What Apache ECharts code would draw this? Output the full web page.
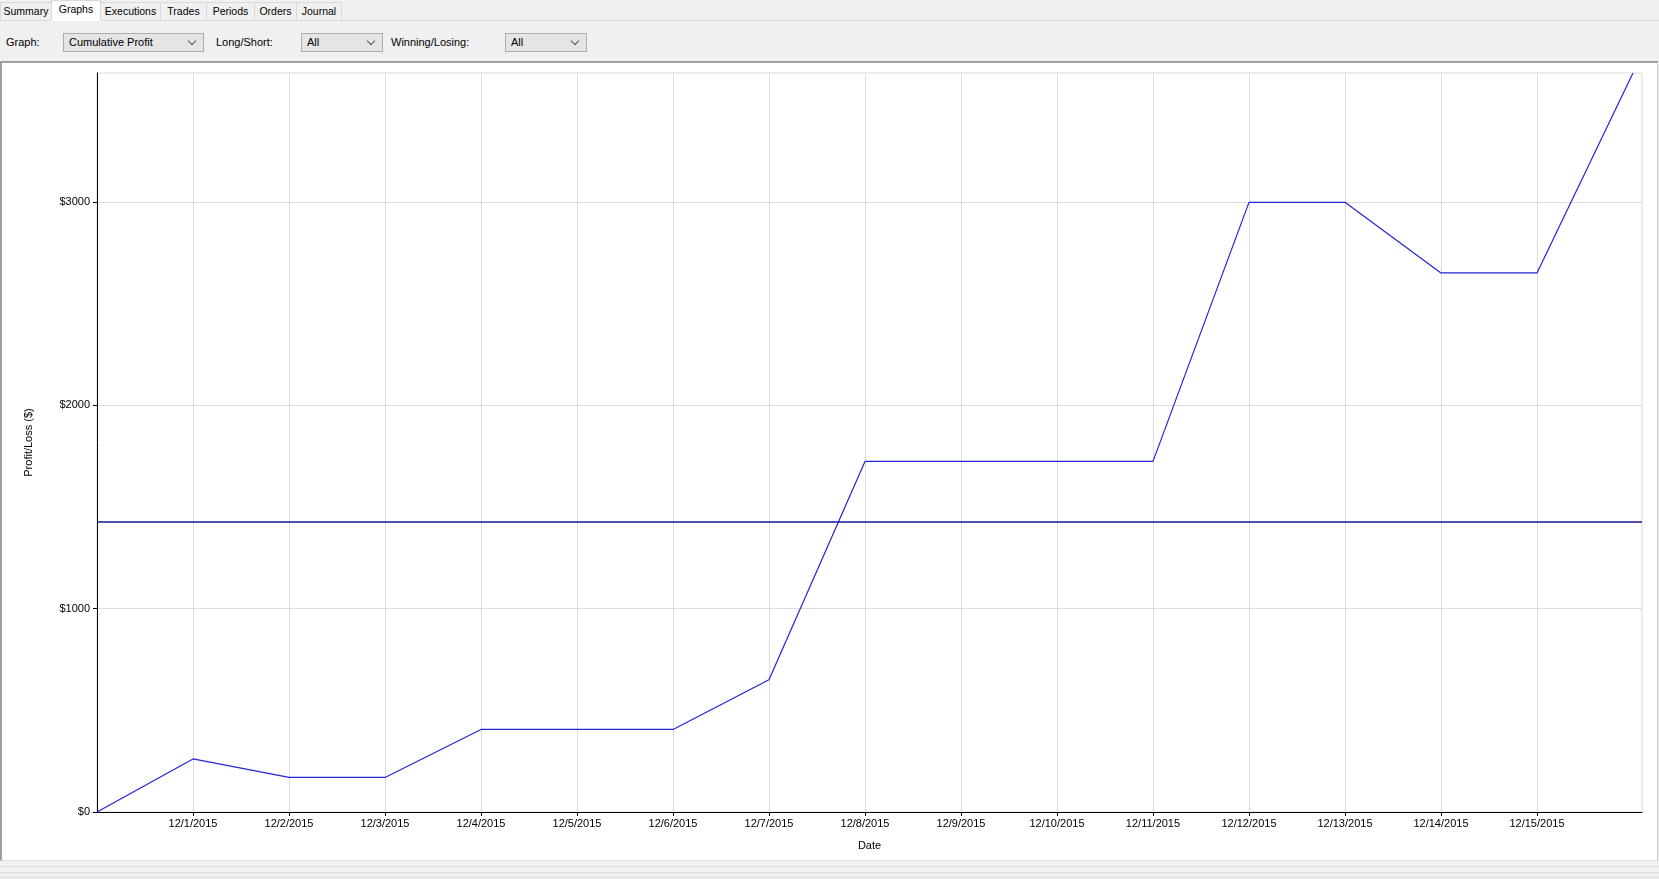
<!DOCTYPE html>
<html>
<head>
<meta charset="utf-8">
<script src="https://cdn.jsdelivr.net/npm/echarts@6/dist/echarts.min.js"></script>
<style>
  html, body { margin:0; padding:0; width:1659px; height:879px; overflow:hidden; background:#f0f0f0; font-family:"Liberation Sans", Arial, sans-serif; color:#000; }
  .tab { position:absolute; top:2px; height:18px; border:1px solid #d9d9d9; border-bottom:none; background:#f0f0f0; font-size:10.5px; line-height:17px; text-align:center; box-sizing:border-box; }
  .tab.sel { top:0; height:21px; background:#fff; z-index:2; }
  .tabline { position:absolute; left:0; top:20px; width:1659px; height:1px; background:#d9d9d9; }
  .lbl { position:absolute; top:34px; font-size:11px; line-height:16px; }
  .dd { position:absolute; top:33px; height:19px; border:1px solid #adadad; background:#e5e5e5; box-sizing:border-box; font-size:11px; line-height:17px; padding-left:5px; }
  .chev { position:absolute; right:8px; top:4px; width:5px; height:5px; border-right:1px solid #555; border-bottom:1px solid #555; transform:rotate(45deg); }
  #panel { position:absolute; left:0; top:61px; width:1658px; height:800px; background:#fff; border-top:2px solid #a0a0a0; border-left:2px solid #a0a0a0; border-right:1px solid #c8c8c8; border-bottom:1px solid #e0e0e0; box-sizing:border-box; }
  #bottom { position:absolute; left:0; top:861px; width:1659px; height:18px; background:#f0f0f0; }
  .stripe { position:absolute; left:0; width:1659px; height:1px; background:#dcdcdc; }
  #chart { position:absolute; left:0; top:0; width:1659px; height:879px; z-index:5; pointer-events:none; }
</style>
</head>
<body>
<div class="tab" style="left:0;width:52px;">Summary</div>
<div class="tab sel" style="left:51px;width:50px;">Graphs</div>
<div class="tab" style="left:100px;width:61px;">Executions</div>
<div class="tab" style="left:160px;width:47px;">Trades</div>
<div class="tab" style="left:206px;width:49px;">Periods</div>
<div class="tab" style="left:254px;width:43px;">Orders</div>
<div class="tab" style="left:296px;width:46px;">Journal</div>
<div class="tabline"></div>

<div class="lbl" style="left:6px;">Graph:</div>
<div class="dd" style="left:63px;width:141px;">Cumulative Profit<div class="chev"></div></div>
<div class="lbl" style="left:216px;">Long/Short:</div>
<div class="dd" style="left:301px;width:82px;">All<div class="chev"></div></div>
<div class="lbl" style="left:391px;">Winning/Losing:</div>
<div class="dd" style="left:505px;width:82px;">All<div class="chev"></div></div>

<div id="panel"></div>
<div id="bottom">
  <div class="stripe" style="top:5px;"></div>
  <div class="stripe" style="top:11px;"></div>
  <div class="stripe" style="top:16px;"></div>
</div>

<div id="chart"></div>
<script>
// Dates (x categories) and cumulative profit values
var dates = ['11/30/2015','12/1/2015','12/2/2015','12/3/2015','12/4/2015','12/5/2015','12/6/2015','12/7/2015','12/8/2015','12/9/2015','12/10/2015','12/11/2015','12/12/2015','12/13/2015','12/14/2015','12/15/2015','12/16/2015'];
var profit = [0, 261, 170, 170, 406, 406, 406, 650, 1724, 1724, 1724, 1724, 2998, 2998, 2651, 2651, 3634];
var xTickIdx = [1,2,3,4,5,6,7,8,9,10,11,12,13,14,15];
var yTicks = [0, 1000, 2000, 3000];

var chart = echarts.init(document.getElementById('chart'), null, {renderer:'canvas'});
var font = '"Liberation Sans", Arial, sans-serif';
chart.setOption({
  animation: false,
  backgroundColor: 'transparent',
  grid: { left: 97, top: 73, right: 17, bottom: 67, show: true, borderColor: '#d9d9d9', borderWidth: 1, backgroundColor: 'transparent', outerBoundsMode: 'none' },
  xAxis: {
    type: 'value', min: 0, max: 16.094,
    name: 'Date', nameLocation: 'middle', nameGap: 28,
    nameTextStyle: { fontFamily: font, fontSize: 11, color: '#000' },
    axisLine: { show: true, onZero: false, lineStyle: { color: '#000', width: 1 } },
    axisTick: { show: true, length: 4, customValues: xTickIdx, lineStyle: { color: '#000' } },
    axisLabel: { customValues: xTickIdx, margin: 6, fontFamily: font, fontSize: 11, color: '#000',
      formatter: function (v) { return dates[Math.round(v)] || ''; } },
    splitLine: { show: true, lineStyle: { color: '#dcdcdc', width: 1 } }
  },
  yAxis: {
    type: 'value', min: 0, max: 'dataMax',
    name: 'Profit/Loss ($)', nameLocation: 'middle', nameGap: 63,
    nameTextStyle: { fontFamily: font, fontSize: 11, color: '#000' },
    axisLine: { show: true, lineStyle: { color: '#000', width: 1 } },
    axisTick: { show: true, length: 4, customValues: yTicks, lineStyle: { color: '#000' } },
    axisLabel: { customValues: yTicks, margin: 7, fontFamily: font, fontSize: 11, color: '#000',
      formatter: function (v) { return '$' + v; } },
    splitLine: { show: true, lineStyle: { color: '#dcdcdc', width: 1 } }
  },
  series: [{
    type: 'line',
    data: profit.map(function (v, i) { return [i, v]; }),
    showSymbol: false,
    lineStyle: { color: '#2424d8', width: 1.2 },
    markLine: {
      silent: true, symbol: 'none', label: { show: false },
      lineStyle: { color: '#14149a', width: 1.5, type: 'solid' },
      data: [{ type: 'average' }]
    }
  }]
});
</script>
</body>
</html>
